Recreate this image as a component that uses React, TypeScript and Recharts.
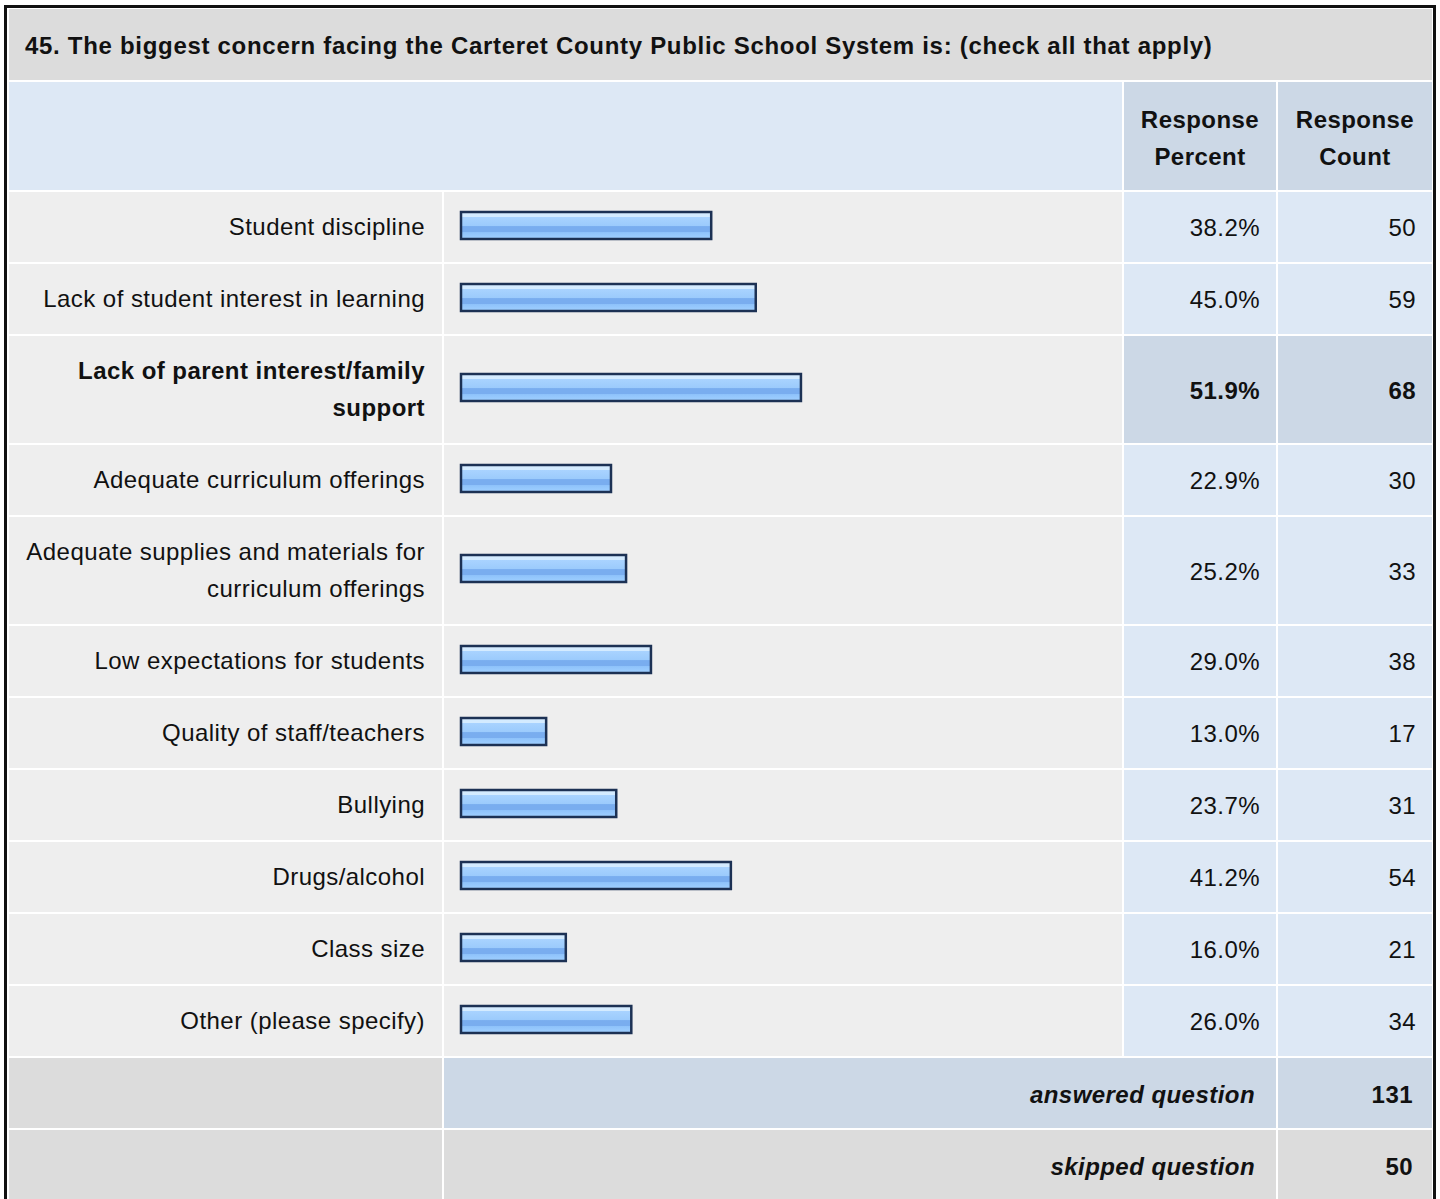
import React from 'react';
import { BarChart, Bar, XAxis, YAxis, ResponsiveContainer } from 'recharts';

const QUESTION = '45. The biggest concern facing the Carteret County Public School System is: (check all that apply)';

const categories = [
  'Student discipline',
  'Lack of student interest in learning',
  'Lack of parent interest/family support',
  'Adequate curriculum offerings',
  'Adequate supplies and materials for curriculum offerings',
  'Low expectations for students',
  'Quality of staff/teachers',
  'Bullying',
  'Drugs/alcohol',
  'Class size',
  'Other (please specify)',
];
const percents = [38.2, 45.0, 51.9, 22.9, 25.2, 29.0, 13.0, 23.7, 41.2, 16.0, 26.0];
const counts = [50, 59, 68, 30, 33, 38, 17, 31, 54, 21, 34];
const answeredCount = 131;
const skippedCount = 50;

const FONT = '"Liberation Sans", Arial, Helvetica, sans-serif';
const GRAY = '#dcdcdc';
const ROW_BG = '#eeeeee';
const LIGHT_BLUE = '#dde8f5';
const MID_BLUE = '#ccd8e6';

const cellText: React.CSSProperties = {
  fontFamily: FONT,
  fontSize: 24,
  letterSpacing: 0.45,
  lineHeight: '37px',
  color: '#111',
};

// one little horizontal bar per row, all on the same 0-100 scale
const RowBar = ({ value, id }: { value: number; id: string }) => (
  <div style={{ position: 'absolute', left: 0, top: 0, right: 0, bottom: 0 }}>
    <ResponsiveContainer width="100%" height="100%">
      <BarChart
        data={[{ name: 'v', value }]}
        layout="vertical"
        margin={{ top: 0, right: 6, bottom: 4, left: 17 }}
      >
        <defs>
          <linearGradient id={id} x1="0" y1="0" x2="0" y2="1">
            <stop offset="0%" stopColor="#d4ebff" />
            <stop offset="18%" stopColor="#d4ebff" />
            <stop offset="19%" stopColor="#a9d3ff" />
            <stop offset="50%" stopColor="#9ccbfc" />
            <stop offset="54%" stopColor="#79adef" />
            <stop offset="74%" stopColor="#79adef" />
            <stop offset="76%" stopColor="#8fc3fb" />
            <stop offset="100%" stopColor="#a0d0ff" />
          </linearGradient>
        </defs>
        <XAxis type="number" domain={[0, 100]} hide />
        <YAxis type="category" dataKey="name" hide />
        <Bar
          dataKey="value"
          barSize={27}
          fill={`url(#${id})`}
          stroke="#1c3154"
          strokeWidth={2.5}
          isAnimationActive={false}
        />
      </BarChart>
    </ResponsiveContainer>
  </div>
);

export default function App() {
  const maxPct = Math.max(...percents);

  return (
    <div style={{ position: 'absolute', left: 0, top: 0, width: 1440, height: 1199, overflow: 'hidden', background: '#fff' }}>
      <div
        style={{
          position: 'absolute',
          left: 4,
          top: 5,
          border: '3px solid #111',
          borderBottom: 'none',
          padding: '1px 1px 0 2px',
          background: '#fff',
        }}
      >
        <div
          style={{
            display: 'grid',
            gridTemplateColumns: '433px 678px 152px 154px',
            columnGap: 2,
            rowGap: 2,
            background: '#fff',
          }}
        >
          {/* title */}
          <div
            style={{
              gridColumn: '1 / span 4',
              height: 71,
              background: GRAY,
              display: 'flex',
              alignItems: 'center',
              paddingLeft: 16,
              fontFamily: FONT,
              fontWeight: 'bold',
              fontSize: 24,
              letterSpacing: 0.7,
              color: '#111',
              paddingTop: 3,
              boxSizing: 'border-box',
              whiteSpace: 'nowrap',
            }}
          >
            {QUESTION}
          </div>

          {/* header */}
          <div style={{ gridColumn: '1 / span 2', background: LIGHT_BLUE }} />
          {['Response Percent', 'Response Count'].map((h) => (
            <div
              key={h}
              style={{
                ...cellText,
                background: MID_BLUE,
                fontWeight: 'bold',
                textAlign: 'center',
                padding: '19px 4px 15px 4px',
              }}
            >
              {h.split(' ').map((w) => (
                <div key={w}>{w}</div>
              ))}
            </div>
          ))}

          {/* answer rows */}
          {categories.map((cat, i) => {
            const top = percents[i] === maxPct;
            const numBg = top ? MID_BLUE : LIGHT_BLUE;
            const numStyle: React.CSSProperties = {
              ...cellText,
              background: numBg,
              fontWeight: top ? 'bold' : 'normal',
              display: 'flex',
              alignItems: 'center',
              justifyContent: 'flex-end',
              paddingRight: 16,
              paddingTop: 1,
            };
            return (
              <React.Fragment key={cat}>
                <div
                  style={{
                    ...cellText,
                    background: ROW_BG,
                    textAlign: 'right',
                    fontWeight: top ? 'bold' : 'normal',
                    padding: '16px 17px 17px 10px',
                  }}
                >
                  {cat}
                </div>
                <div style={{ background: ROW_BG, position: 'relative' }}>
                  <RowBar value={percents[i]} id={`barGrad${i}`} />
                </div>
                <div style={numStyle}>{percents[i].toFixed(1)}%</div>
                <div style={numStyle}>{counts[i]}</div>
              </React.Fragment>
            );
          })}

          {/* summary rows */}
          {[
            { label: 'answered question', value: answeredCount, bg: MID_BLUE },
            { label: 'skipped question', value: skippedCount, bg: GRAY },
          ].map((r) => (
            <React.Fragment key={r.label}>
              <div style={{ background: GRAY, height: 70 }} />
              <div
                style={{
                  ...cellText,
                  gridColumn: '2 / span 2',
                  background: r.bg,
                  fontWeight: 'bold',
                  fontStyle: 'italic',
                  display: 'flex',
                  alignItems: 'center',
                  justifyContent: 'flex-end',
                  paddingRight: 21,
                  paddingTop: 2,
                }}
              >
                {r.label}
              </div>
              <div
                style={{
                  ...cellText,
                  background: r.bg,
                  fontWeight: 'bold',
                  display: 'flex',
                  alignItems: 'center',
                  justifyContent: 'flex-end',
                  paddingRight: 19,
                  paddingTop: 2,
                }}
              >
                {r.value}
              </div>
            </React.Fragment>
          ))}
        </div>
      </div>
    </div>
  );
}
